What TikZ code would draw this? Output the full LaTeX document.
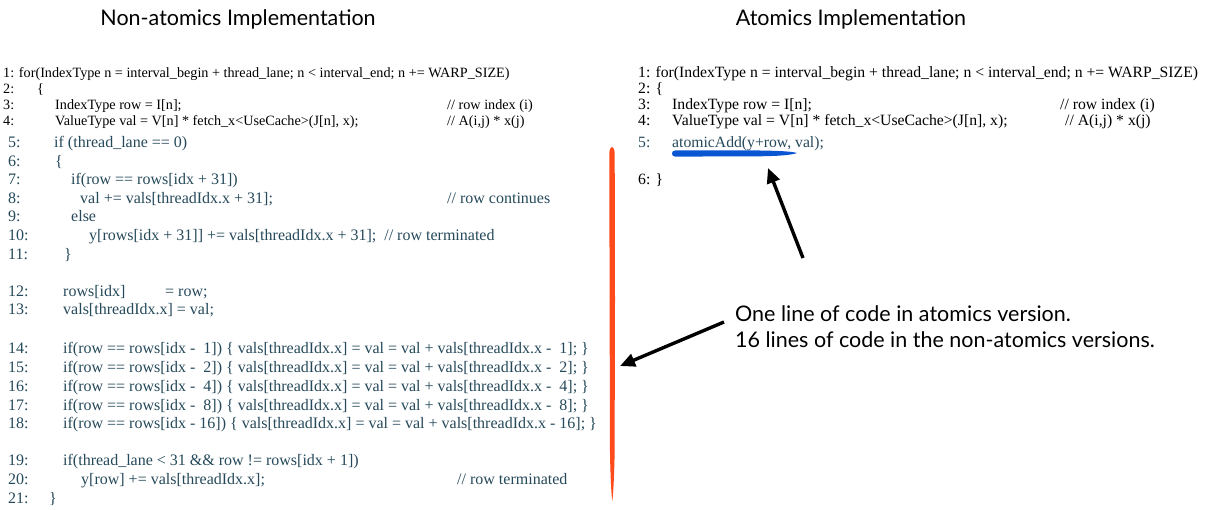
\documentclass[tikz,border=0pt]{standalone}
\usepackage{fontspec}
\setmainfont{Liberation Serif}
\newfontfamily\gillfont{Lato}
\usetikzlibrary{arrows.meta}
\definecolor{codeteal}{HTML}{25495A}
\definecolor{barorange}{HTML}{FF4A1C}
\definecolor{penblue}{HTML}{0A56D2}
\tikzset{
  code/.style={anchor=base west, inner sep=0pt, font=\fontsize{15.7}{16}\selectfont, text=black},
  scode/.style={code, font=\fontsize{14.2}{15}\selectfont},
  tcode/.style={code, font=\fontsize{16}{17}\selectfont, text=codeteal},
  rtcode/.style={code, text=codeteal},
  title/.style={anchor=base, inner sep=0pt, font=\gillfont\fontsize{21.5}{24}\selectfont},
  note/.style={anchor=base west, inner sep=0pt, font=\gillfont\fontsize{21.5}{24}\selectfont},
  pointer/.style={line width=3.4pt, -{Triangle[length=15pt,width=13pt]}}
}
\begin{document}
\begin{tikzpicture}[x=1pt,y=-1pt]
\useasboundingbox (0,0) rectangle (1215,510);
% titles
\node[title] (t1) at (238,26) {Non-atomics Implementation};
\node[title] (t2) at (851,26) {Atomics Implementation};
% left column, lines 1-4
\node[scode] (l1) at (3,78) {1: for(IndexType n = interval\_begin + thread\_lane; n < interval\_end; n += WARP\_SIZE)};
\node[scode] (l2n) at (3,94) {2:};
\node[scode] (l2c) at (37,94) {\{};
\node[scode] (l3n) at (3,110) {3:};
\node[scode] (l3c) at (55,110) {IndexType row = I[n];};
\node[scode] (l3m) at (447,110) {// row index (i)};
\node[scode] (l4n) at (3,126) {4:};
\node[scode] (l4c) at (55,126) {ValueType val = V[n] * fetch\_x<UseCache>(J[n], x);};
\node[scode] (l4m) at (447,126) {// A(i,j) * x(j)};
% left column, lines 5-21
\node[tcode] (l5n) at (8,148) {5:};
\node[tcode] (l5c) at (54,148) {if (thread\_lane == 0)};
\node[tcode] (l6n) at (8,167) {6:};
\node[tcode] (l6c) at (55,167) {\{};
\node[tcode] (l7n) at (8,185) {7:};
\node[tcode] (l7c) at (71,185) {if(row == rows[idx + 31])};
\node[tcode] (l8n) at (8,204) {8:};
\node[tcode] (l8c) at (80,204) {val += vals[threadIdx.x + 31];};
\node[tcode] (l8m) at (447,204) {// row continues};
\node[tcode] (l9n) at (8,222) {9:};
\node[tcode] (l9c) at (71,222) {else};
\node[tcode] (l10n) at (8,241) {10:};
\node[tcode] (l10c) at (89,241) {y[rows[idx + 31]] += vals[threadIdx.x + 31];\ \ // row terminated};
\node[tcode] (l11n) at (8,260) {11:};
\node[tcode] (l11c) at (64,260) {\}};
\node[tcode] (l12n) at (8,297) {12:};
\node[tcode] (l12c) at (63,297) {rows[idx]};
\node[tcode] (l12d) at (165,297) {= row;};
\node[tcode] (l13n) at (8,315) {13:};
\node[tcode] (l13c) at (63,315) {vals[threadIdx.x] = val;};
\node[tcode] (l14n) at (8,354) {14:};
\node[tcode] (l14c) at (63,354) {if(row == rows[idx -\ \ 1]) \{ vals[threadIdx.x] = val = val + vals[threadIdx.x -\ \ 1]; \}};
\node[tcode] (l15n) at (8,373) {15:};
\node[tcode] (l15c) at (63,373) {if(row == rows[idx -\ \ 2]) \{ vals[threadIdx.x] = val = val + vals[threadIdx.x -\ \ 2]; \}};
\node[tcode] (l16n) at (8,391) {16:};
\node[tcode] (l16c) at (63,391) {if(row == rows[idx -\ \ 4]) \{ vals[threadIdx.x] = val = val + vals[threadIdx.x -\ \ 4]; \}};
\node[tcode] (l17n) at (8,410) {17:};
\node[tcode] (l17c) at (63,410) {if(row == rows[idx -\ \ 8]) \{ vals[threadIdx.x] = val = val + vals[threadIdx.x -\ \ 8]; \}};
\node[tcode] (l18n) at (8,428) {18:};
\node[tcode] (l18c) at (63,428) {if(row == rows[idx - 16]) \{ vals[threadIdx.x] = val = val + vals[threadIdx.x - 16]; \}};
\node[tcode] (l19n) at (8,465) {19:};
\node[tcode] (l19c) at (63,465) {if(thread\_lane < 31 \&\& row != rows[idx + 1])};
\node[tcode] (l20n) at (8,484) {20:};
\node[tcode] (l20c) at (81,484) {y[row] += vals[threadIdx.x];};
\node[tcode] (l20m) at (457,484) {// row terminated};
\node[tcode] (l21n) at (8,503) {21:};
\node[tcode] (l21c) at (49,503) {\}};
% right column
\node[code] (r1) at (638,78) {1: for(IndexType n = interval\_begin + thread\_lane; n < interval\_end; n += WARP\_SIZE)};
\node[code] (r2) at (638,94) {2: \{};
\node[code] (r3n) at (638,110) {3:};
\node[code] (r3c) at (672,110) {IndexType row = I[n];};
\node[code] (r3m) at (1060,110) {// row index (i)};
\node[code] (r4n) at (638,126) {4:};
\node[code] (r4c) at (672,126) {ValueType val = V[n] * fetch\_x<UseCache>(J[n], x);};
\node[code] (r4m) at (1065,126) {// A(i,j) * x(j)};
\node[rtcode] (r5n) at (638,148) {5:};
\node[rtcode] (r5c) at (672,148) {atomicAdd(y+row, val);};
\node[code] (r6) at (638,185) {6: \}};
% orange bar
\fill[barorange] (609.3,153) .. controls (609.8,145) and (614.2,145) .. (614.7,153)
  -- (615,300) -- (614.6,455) .. controls (614,480) and (613.2,495) .. (612.3,501)
  .. controls (611.4,495) and (610.6,480) .. (610,455) -- (609.6,300) -- cycle;
% blue underline
\fill[penblue] (675,150.5) -- (760,150.5) .. controls (780,150.8) and (792,151.5) .. (797,153)
  .. controls (792,155) and (780,156) .. (760,156.3) -- (675,156.6)
  .. controls (671,156.6) and (671,150.5) .. (675,150.5) -- cycle;
% annotation
\node[note] (n1) at (735,322) {One line of code in atomics version.};
\node[note] (n2) at (735,348) {16 lines of code in the non-atomics versions.};
\coordinate (a1s) at (803,258);
\coordinate (a1e) at (768,168);
\coordinate (a2s) at (724,322);
\coordinate (a2e) at (620,366);
\draw[pointer] (a1s) -- (a1e);
\draw[pointer] (a2s) -- (a2e);
\end{tikzpicture}
\end{document}
